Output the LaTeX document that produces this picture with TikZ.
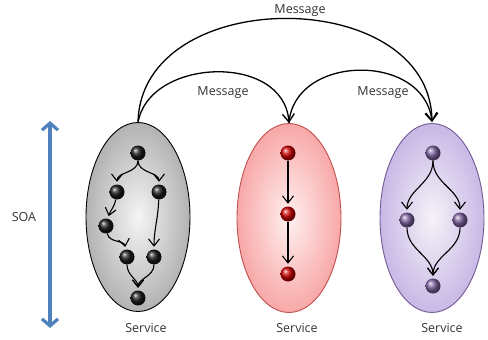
\documentclass[tikz,border=0pt]{standalone}
\usepackage{fontspec}
\setmainfont{Open Sans}
\usetikzlibrary{shapes.geometric,arrows.meta}
\definecolor{soablue}{HTML}{4F81BD}
\definecolor{lilac}{HTML}{8064A2}
\definecolor{lilacedge}{RGB}{200,184,230}
\definecolor{pinkedge}{RGB}{248,168,168}
\definecolor{salmon}{HTML}{C0504D}
\tikzset{
  service/.style={ellipse, draw, line width=0.9pt, inner sep=0pt,
    minimum width=104pt, minimum height=189pt},
  bead/.style={circle, inner sep=0pt, minimum size=15pt, shading=ball},
  flow/.style={line width=1.1pt, -{Straight Barb[length=7pt,width=11pt,line width=1.1pt]},
    shorten >=2.5pt},
  msg/.style={line width=1.3pt, -{Straight Barb[length=8pt,width=12pt,line width=1.3pt]}},
  lbl/.style={font=\fontsize{12.5pt}{14pt}\selectfont, text=black!80, inner sep=0pt},
}
\begin{document}
\begin{tikzpicture}[x=1pt,y=-1pt]
\useasboundingbox (0,0) rectangle (488,340);

% the three services
\node[service, draw=black, inner color=white!96!black, outer color=black!30] (s1) at (138,217) {};
\node[service, draw=salmon, inner color=red!6, outer color=pinkedge] (s2) at (289,218) {};
\node[service, draw=lilac!90!black, inner color=lilac!8, outer color=lilacedge] (s3) at (432,218) {};

\node[lbl] (t1) at (146,328) {Service};
\node[lbl] (t2) at (297,328) {Service};
\node[lbl] (t3) at (442,328) {Service};

% messages between services
\coordinate (p1) at (138,123);
\coordinate (p2) at (289,123);
\coordinate (p3) at (432,122);
\draw[msg] (p1) .. controls (140,-16) and (430,-16) .. (p3);
\draw[msg] (p1) .. controls (148,58) and (284,52) .. (p2);
\draw[msg] (p2) .. controls (294,54) and (424,52) .. (p3);
\node[lbl] (m1) at (300,11) {Message};
\node[lbl] (m2) at (223,93) {Message};
\node[lbl] (m3) at (383,93) {Message};

% SOA axis
\coordinate (soaTop) at (50,121);
\coordinate (soaBot) at (50,328);
\draw[soablue, line width=3.6pt,
  {Straight Barb[length=7pt,width=16pt,line width=3.2pt]}-{Straight Barb[length=7pt,width=16pt,line width=3.2pt]}]
  (soaTop) -- (soaBot);
\node[lbl] (soa) at (24,217) {SOA};

% first service: branching flow
\node[bead, ball color=black!90] (a1) at (138,153) {};
\node[bead, ball color=black!90] (a2) at (117,192) {};
\node[bead, ball color=black!90] (a3) at (159,192) {};
\node[bead, ball color=black!90] (a4) at (106,226) {};
\node[bead, ball color=black!90] (a5) at (127,257) {};
\node[bead, ball color=black!90] (a6) at (154,257) {};
\node[bead, ball color=black!90] (a7) at (138,298) {};
\draw[flow] (a1) to[out=-90,in=90] (a2);
\draw[flow] (a1) to[out=-90,in=90] (a3);
\draw[flow] (a2) to[out=-100,in=75] (a4);
\draw[flow] (a4) to[out=-80,in=100] (a5);
\draw[flow] (a3) to[out=-92,in=90] (a6);
\draw[flow] (a5) to[out=-90,in=90] (a7);
\draw[flow] (a6) to[out=-90,in=90] (a7);

% second service: chain
\node[bead, ball color=red!80!black] (b1) at (288,153) {};
\node[bead, ball color=red!80!black] (b2) at (288,214) {};
\node[bead, ball color=red!80!black] (b3) at (288,274) {};
\draw[flow] (b1) -- (b2);
\draw[flow] (b2) -- (b3);

% third service: diamond
\node[bead, ball color=lilac] (c1) at (433,153) {};
\node[bead, ball color=lilac] (c2) at (407,220) {};
\node[bead, ball color=lilac] (c3) at (460,220) {};
\node[bead, ball color=lilac] (c4) at (433,286) {};
\draw[flow] (c1) to[out=-90,in=90] (c2);
\draw[flow] (c1) to[out=-90,in=90] (c3);
\draw[flow] (c2) to[out=-90,in=90] (c4);
\draw[flow] (c3) to[out=-90,in=90] (c4);
\end{tikzpicture}
\end{document}
